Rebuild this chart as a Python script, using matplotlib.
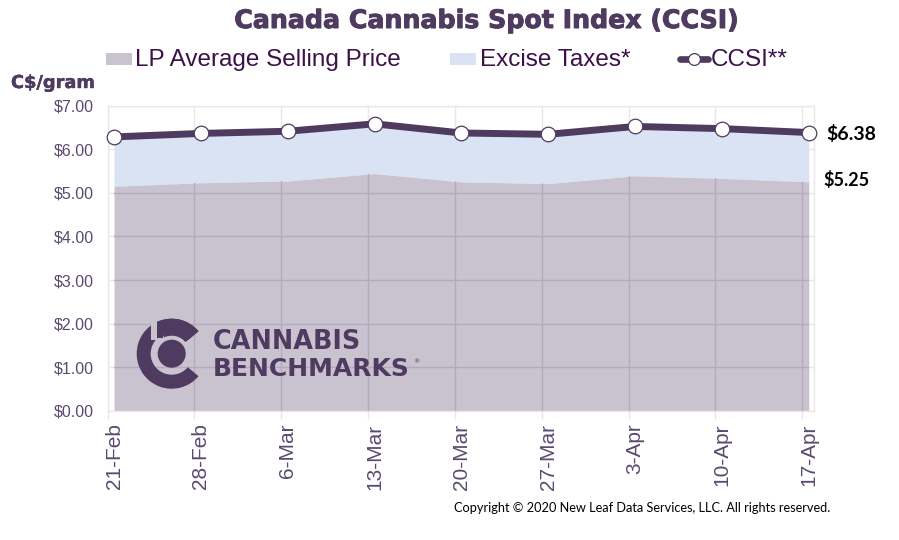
import matplotlib
matplotlib.use("Agg")
import matplotlib.pyplot as plt
import matplotlib.patheffects as pe
from matplotlib.patches import Circle, Rectangle, Wedge

weeks = ["21-Feb", "28-Feb", "6-Mar", "13-Mar", "20-Mar", "27-Mar", "3-Apr", "10-Apr", "17-Apr"]
lp_price = [5.15, 5.23, 5.27, 5.44, 5.25, 5.21, 5.39, 5.33, 5.25]
ccsi = [6.28, 6.36, 6.41, 6.58, 6.37, 6.34, 6.52, 6.47, 6.38]
y_ticks = [0, 1, 2, 3, 4, 5, 6, 7]

PURPLE = "#4f3a60"
LEGEND_TEXT = "#3c1048"
TICK_TEXT = "#5a4a70"
LP_FILL = "#c9c2cf"
TAX_FILL = "#dae3f3"
GRID = "#e8e8e8"
GRID_DARK = "#b3abbb"

W, H = 899, 540
fig = plt.figure(figsize=(W / 100, H / 100), dpi=100)
ax = fig.add_axes([107.5 / W, 1 - 411 / H, 706.5 / W, 305.5 / H])

x = list(range(len(weeks)))
tick_shift = -0.075  # grid lines sit a bit left of the points
grid_x = [i + tick_shift for i in x]

ax.set_xlim(-0.075, 8.06)
ax.set_ylim(0, 7)

ax.set_xticks(x)
ax.set_xticklabels(weeks, rotation=90, fontsize=15, color=TICK_TEXT, family="Liberation Sans")
ax.tick_params(axis="x", which="major", length=0, pad=9)
ax.set_xticks(grid_x, minor=True)
ax.tick_params(axis="x", which="minor", length=6, color=GRID, width=1)
ax.set_yticks(y_ticks)
ax.set_yticklabels([f"${v:.2f}" for v in y_ticks], fontsize=11.5, color=TICK_TEXT, family="Liberation Sans")
ax.tick_params(axis="y", length=0, pad=10)

ax.grid(True, axis="y", color=GRID, linewidth=1, zorder=0)
ax.grid(True, axis="x", which="minor", color=GRID, linewidth=1, zorder=0)
ax.set_axisbelow(True)
for spine in ax.spines.values():
    spine.set_color(GRID)
    spine.set_linewidth(1)

ax.fill_between(x, lp_price, ccsi, color=TAX_FILL, linewidth=0, zorder=2)
lp_area = ax.fill_between(x, 0, lp_price, color=LP_FILL, linewidth=0, zorder=2)

# darker grid only where it shows through the LP area
clip_path = lp_area.get_paths()[0]
vgrid = ax.vlines(grid_x[1:], 0, 7, color=GRID_DARK, linewidth=1, zorder=3)
hgrid = ax.hlines(y_ticks[1:], -0.075, 8.06, color=GRID_DARK, linewidth=1, zorder=3)
vgrid.set_clip_path(clip_path, lp_area.get_transform())
hgrid.set_clip_path(clip_path, lp_area.get_transform())

ax.plot(x, ccsi, color=PURPLE, linewidth=5, marker="o", markersize=10.5,
        markerfacecolor="white", markeredgecolor=PURPLE, markeredgewidth=0.9,
        clip_on=False, zorder=5)

# overlay in pixel coordinates for legend, titles and logo
ov = fig.add_axes([0, 0, 1, 1], zorder=10)
ov.set_xlim(0, W)
ov.set_ylim(H, 0)
ov.axis("off")
ov.patch.set_alpha(0)

ov.text(486.5, 21, "Canada Cannabis Spot Index (CCSI)", ha="center", va="center",
        fontsize=18.2, fontweight="bold", color=PURPLE, family="DejaVu Sans",
        path_effects=[pe.withStroke(linewidth=0.7, foreground=PURPLE)])
ov.text(11, 83, "C$/gram", ha="left", va="center", fontsize=12.8, fontweight="bold",
        color=PURPLE, family="DejaVu Sans",
        path_effects=[pe.withStroke(linewidth=0.3, foreground=PURPLE)])

ov.add_patch(Rectangle((106, 53), 26, 12, color=LP_FILL, linewidth=0))
ov.text(135, 60, "LP Average Selling Price", ha="left", va="center", fontsize=17.5,
        color=LEGEND_TEXT, family="Liberation Sans")
ov.add_patch(Rectangle((450, 53), 26, 12, color=TAX_FILL, linewidth=0))
ov.text(480, 60, "Excise Taxes*", ha="left", va="center", fontsize=17.5,
        color=LEGEND_TEXT, family="Liberation Sans")
ov.plot([680, 708], [59, 59], color=PURPLE, linewidth=4.8, solid_capstyle="round")
ov.plot([694], [59], marker="o", markersize=8.5, markerfacecolor="white",
        markeredgecolor=PURPLE, markeredgewidth=0.9)
ov.text(711, 60, "CCSI**", ha="left", va="center", fontsize=17.5,
        color=LEGEND_TEXT, family="Liberation Sans")

ov.text(826, 134, f"${ccsi[-1]:.2f}", ha="left", va="center", fontsize=14, fontweight="bold",
        color="black", family="Lato")
ov.text(823, 180, f"${lp_price[-1]:.2f}", ha="left", va="center", fontsize=13, fontweight="bold",
        color="black", family="Lato")
ov.text(454, 508, "Copyright © 2020 New Leaf Data Services, LLC. All rights reserved.",
        ha="left", va="center", fontsize=9.2, color="black", family="Lato")

# logo
cx, cy = 171.7, 353.7
ov.add_patch(Wedge((cx, cy), 35, 40, 320, width=14, color=PURPLE, linewidth=0))
ov.add_patch(Rectangle((151, 316), 6, 24, color=LP_FILL, linewidth=0))
ov.add_patch(Wedge((cx, cy), 35, -115, -40, width=17, color=PURPLE, linewidth=0))
ov.add_patch(Rectangle((157, 325), 6, 13, color=PURPLE, linewidth=0))
ov.add_patch(Circle((cx, cy), 14, color=PURPLE, linewidth=0))
ov.text(213, 342, "CANNABIS", ha="left", va="center", fontsize=18.4, fontweight="bold",
        color=PURPLE, family="DejaVu Sans")
ov.text(213, 368.5, "BENCHMARKS", ha="left", va="center", fontsize=18, fontweight="bold",
        color=PURPLE, family="DejaVu Sans")
ov.text(413, 362, "®", ha="left", va="center", fontsize=4.5, color=PURPLE, family="DejaVu Sans")

fig.savefig("out.png", dpi=100)
plt.close(fig)
